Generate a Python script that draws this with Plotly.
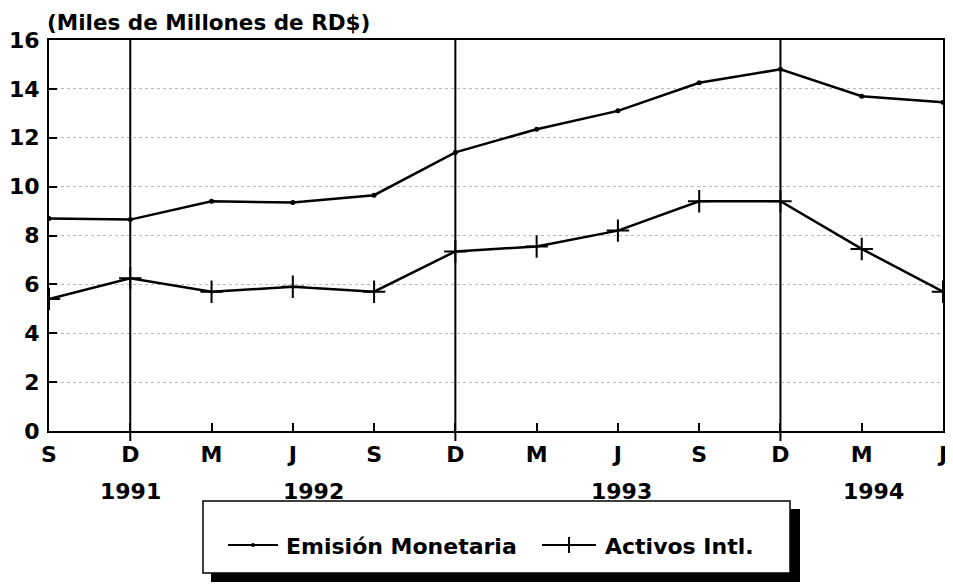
import plotly.graph_objects as go

# trimestres, sep-1991 a jun-1994
meses = ["S", "D", "M", "J", "S", "D", "M", "J", "S", "D", "M", "J"]
emision = [8.7, 8.65, 9.4, 9.35, 9.65, 11.4, 12.35, 13.1, 14.25, 14.8, 13.7, 13.45]
activos = [5.4, 6.25, 5.7, 5.9, 5.7, 7.35, 7.55, 8.2, 9.4, 9.4, 7.45, 5.7]
anios = ["1991", "1992", "1993", "1994"]
anio_pos = [1, 3.25, 7.05, 10.15]
cortes = [1, 5, 9]  # diciembre de cada año

x = list(range(len(meses)))
FONT = "DejaVu Sans"
FS = 22

# la pagina deja 8px de margen arriba y a la izquierda
OFF = 8
W, H = 953 - OFF, 584 - OFF
# area de trazado en pixeles de la imagen de referencia
L, R, T, B = 49, 943, 40, 431


def px_x(v):
    return (v - L) / (R - L)


def px_y(v):
    return (B - v) / (B - T)


fig = go.Figure()
fig.add_trace(go.Scatter(x=x, y=emision, mode="lines+markers", name="Emisión Monetaria",
                         line=dict(color="black", width=2.5),
                         marker=dict(symbol="circle", size=5, color="black")))
fig.add_trace(go.Scatter(x=x, y=activos, mode="lines+markers", name="Activos Intl.",
                         line=dict(color="black", width=2.5),
                         marker=dict(symbol="cross-thin", size=16,
                                     line=dict(color="black", width=2))))

# lineas verticales de diciembre
for c in cortes:
    fig.add_shape(type="line", xref="x", yref="paper", x0=c, x1=c, y0=px_y(441), y1=1.0,
                  line=dict(color="black", width=2))

# años bajo el eje
for a, p in zip(anios, anio_pos):
    fig.add_annotation(x=p, xref="x", y=px_y(491), yref="paper", yanchor="middle",
                       text="<b>%s</b>" % a, showarrow=False,
                       font=dict(size=FS, family=FONT, color="black"))

fig.add_annotation(x=px_x(45), xref="paper", y=px_y(22), yref="paper", xanchor="left",
                   yanchor="middle", text="<b>(Miles de Millones de RD$)</b>", showarrow=False,
                   font=dict(size=21.5, family=FONT, color="black"))

# leyenda a mano, con sombra
fig.add_shape(type="rect", xref="paper", yref="paper", x0=px_x(211), x1=px_x(800),
              y0=px_y(582), y1=px_y(509), fillcolor="black", line=dict(width=0), layer="above")
fig.add_shape(type="rect", xref="paper", yref="paper", x0=px_x(203), x1=px_x(790),
              y0=px_y(573), y1=px_y(501), fillcolor="white", line=dict(color="black", width=1.5),
              layer="above")
for x0, x1 in [(228, 278), (542, 596)]:
    fig.add_shape(type="line", xref="paper", yref="paper", x0=px_x(x0), x1=px_x(x1),
                  y0=px_y(545), y1=px_y(545), line=dict(color="black", width=2), layer="above")
fig.add_shape(type="line", xref="paper", yref="paper", x0=px_x(569), x1=px_x(569),
              y0=px_y(537), y1=px_y(553), line=dict(color="black", width=2), layer="above")
fig.add_shape(type="circle", xref="paper", yref="paper", x0=px_x(251), x1=px_x(255),
              y0=px_y(547), y1=px_y(543), fillcolor="black", line=dict(width=0), layer="above")
fig.add_annotation(x=px_x(284), xref="paper", y=px_y(546), yref="paper", xanchor="left",
                   yanchor="middle", text="<b>Emisión Monetaria</b>", showarrow=False,
                   font=dict(size=FS, family=FONT, color="black"))
fig.add_annotation(x=px_x(603), xref="paper", y=px_y(546), yref="paper", xanchor="left",
                   yanchor="middle", text="<b>Activos Intl.</b>", showarrow=False,
                   font=dict(size=FS, family=FONT, color="black"))

fig.update_xaxes(range=[0, 11], tickvals=x, ticktext=["<b>%s</b>" % m for m in meses],
                 ticks="inside", ticklen=8, tickwidth=2, tickcolor="black", automargin=False,
                 ticklabelstandoff=3,
                 showgrid=False, zeroline=False, showline=True, linecolor="black", linewidth=2,
                 mirror=True, tickfont=dict(size=FS, family=FONT, color="black"))
fig.update_yaxes(range=[0, 16], tickvals=list(range(0, 17, 2)),
                 ticktext=["<b>%d</b>" % v for v in range(0, 17, 2)], automargin=False,
                 ticks="inside", ticklen=8, tickwidth=2, tickcolor="black", ticklabelstandoff=3,
                 showgrid=True, gridcolor="#b8b8b8", griddash="dot", gridwidth=1,
                 zeroline=False, showline=True, linecolor="black", linewidth=2, mirror=True,
                 tickfont=dict(size=FS, family=FONT, color="black"))

fig.update_layout(width=W, height=H, showlegend=False,
                  margin=dict(l=L - OFF, r=W - (R - OFF), t=T - OFF, b=H - (B - OFF)),
                  paper_bgcolor="white", plot_bgcolor="white")

fig.write_html("out.html")
